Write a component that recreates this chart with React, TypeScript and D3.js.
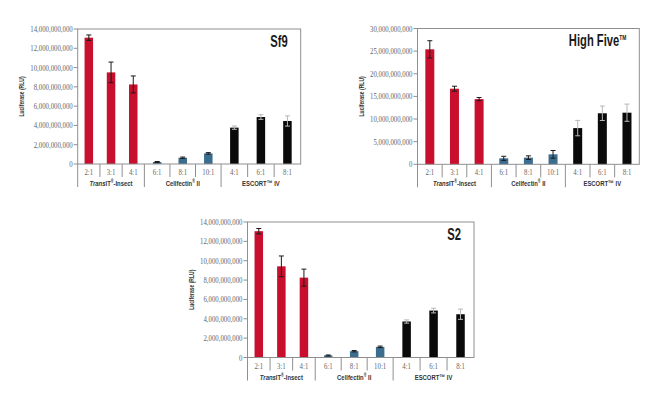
import React from 'react';
import * as d3 from 'd3';

// values in billions of RLU
const categories = ['2:1', '3:1', '4:1', '6:1', '8:1', '10:1', '4:1', '6:1', '8:1'];
const groupOf = [0, 0, 0, 1, 1, 1, 2, 2, 2];
const groupColors = ['#c8102e', '#3b6d8f', '#0a0a0a'];
const errColors = ['#1a1a1a', '#1a1a1a', '#b8b8b8'];

const sf9Values = [13.1, 9.5, 8.25, 0.21, 0.65, 1.1, 3.77, 4.87, 4.46];
const sf9Errors = [0.28, 1.07, 0.88, 0.05, 0.07, 0.08, 0.17, 0.24, 0.53];
const sf9Ticks = [0, 2, 4, 6, 8, 10, 12, 14];

const highFiveValues = [25.4, 16.7, 14.4, 1.32, 1.47, 2.2, 8.0, 11.27, 11.4];
const highFiveErrors = [1.9, 0.55, 0.35, 0.45, 0.4, 0.85, 1.7, 1.6, 1.9];
const highFiveTicks = [0, 5, 10, 15, 20, 25, 30];

const s2Values = [13.05, 9.42, 8.25, 0.21, 0.65, 1.1, 3.72, 4.85, 4.47];
const s2Errors = [0.28, 1.07, 0.88, 0.05, 0.07, 0.08, 0.17, 0.24, 0.53];
const s2Ticks = [0, 2, 4, 6, 8, 10, 12, 14];

const SERIF = '"Liberation Serif", "Times New Roman", serif';
const SANS = '"Liberation Sans", Arial, sans-serif';
const fmt = d3.format(',');

function CText(props: any) {
  const { x, y, sx = 0.8, rotate, anchor = 'middle', size = 8, weight = 'normal', fill = '#666', family = SANS, children } = props;
  return (
    <g transform={`translate(${x},${y})${rotate ? ` rotate(${rotate})` : ''} scale(${sx},1)`}>
      <text textAnchor={anchor} fontSize={size} fontWeight={weight} fill={fill} fontFamily={family}>
        {children}
      </text>
    </g>
  );
}

function GroupLabel({ i, x, y }: any) {
  const common = { x, y, sx: 0.74, size: 8, weight: 'bold', fill: '#333' };
  if (i === 0)
    return (
      <CText {...common}>
        <tspan fontStyle="italic">Trans</tspan>IT
        <tspan fontSize={5} dy={-3}>®</tspan>
        <tspan dy={3}>-Insect</tspan>
      </CText>
    );
  if (i === 1)
    return (
      <CText {...common}>
        Cellfectin<tspan fontSize={5} dy={-3}>®</tspan>
        <tspan dy={3}> II</tspan>
      </CText>
    );
  return <CText {...common}>ESCORT™ IV</CText>;
}

function Panel({ left, top, width, height, fracs, values, errors, ticks, barW, title, tm }: any) {
  const y = d3.scaleLinear().domain([0, ticks[ticks.length - 1]]).range([height, 0]);
  const x = d3.scaleLinear().domain([0, 3, 6, 9]).range(fracs.map((f: number) => f * width));
  const frame = '#8f8f8f';
  return (
    <g transform={`translate(${left},${top})`}>
      {values.map((v: number, i: number) => {
        const cx = (x(i) + x(i + 1)) / 2;
        const g = groupOf[i];
        const e = errors[i];
        return (
          <g key={i}>
            <rect x={cx - barW / 2} y={y(v)} width={barW} height={height - y(v)} fill={groupColors[g]} />
            <g stroke={errColors[g]} strokeWidth={1}>
              <line x1={cx} x2={cx} y1={y(v + e)} y2={y(v - e)} />
              <line x1={cx - 2.5} x2={cx + 2.5} y1={y(v + e)} y2={y(v + e)} />
              <line x1={cx - 2.5} x2={cx + 2.5} y1={y(v - e)} y2={y(v - e)} />
            </g>
          </g>
        );
      })}
      <rect x={0} y={0} width={width} height={height} fill="none" stroke={frame} strokeWidth={1} />
      <line x1={0} x2={0} y1={height} y2={height + 23} stroke={frame} />
      {ticks.map((t: number) => (
        <g key={t}>
          <line x1={-4} x2={0} y1={y(t)} y2={y(t)} stroke={frame} />
          <CText x={-5} y={y(t) + 3} anchor="end" size={8.5} family={SERIF} sx={0.8}>
            {fmt(t * 1e9)}
          </CText>
        </g>
      ))}
      {categories.map((c, i) => {
        const sep = i % 3 === 0 && i > 0;
        return (
          <g key={i}>
            {i > 0 && <line x1={x(i)} x2={x(i)} y1={height} y2={height + (sep ? 23 : 13)} stroke={frame} />}
            <CText x={(x(i) + x(i + 1)) / 2} y={height + 11} size={8.5} family={SERIF} sx={0.8}>
              {c}
            </CText>
          </g>
        );
      })}
      {[0, 1, 2].map((g) => (
        <GroupLabel key={g} i={g} x={(x(g * 3) + x(g * 3 + 3)) / 2} y={height + 22} />
      ))}
      <CText x={-54} y={height / 2} rotate={-90} size={7.5} weight="bold" fill="#333" sx={0.67}>
        Luciferase (RLU)
      </CText>
      <CText x={width - 13} y={17.5} anchor="end" size={16} weight="bold" fill="#1a1a1a" sx={0.7}>
        {title}
        {tm && (
          <tspan fontSize={7} dy={-6}>
            TM
          </tspan>
        )}
      </CText>
    </g>
  );
}

export default function App() {
  return (
    <svg width={660} height={398} style={{ position: 'absolute', left: 0, top: 0, background: '#fff' }}>
      <Panel left={77.7} top={29} width={223} height={135} fracs={[0, 0.299, 0.643, 1]} values={sf9Values} errors={sf9Errors} ticks={sf9Ticks} barW={8.5} title="Sf9" />
      <Panel left={417.5} top={28.5} width={221.8} height={135.8} fracs={[0, 1 / 3, 2 / 3, 1]} values={highFiveValues} errors={highFiveErrors} ticks={highFiveTicks} barW={9} title="High Five" tm />
      <Panel left={247.5} top={222} width={226.5} height={135.5} fracs={[0, 0.299, 0.643, 1]} values={s2Values} errors={s2Errors} ticks={s2Ticks} barW={8.5} title="S2" />
    </svg>
  );
}
